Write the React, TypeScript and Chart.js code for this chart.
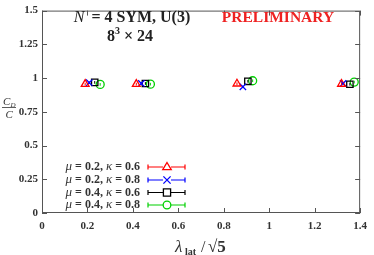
import React, { useEffect, useRef } from "react";
import { Chart, registerables } from "chart.js";

Chart.register(...registerables);

const seriesLabels = ["0.2|0.6", "0.2|0.8", "0.4|0.6", "0.4|0.8"];
const muValues = ["0.2", "0.2", "0.4", "0.4"];
const kappaValues = ["0.6", "0.8", "0.6", "0.8"];
const seriesColors = ["#ff0000", "#0000ff", "#000000", "#00d000"];
const seriesStyles = ["triangle", "crossRot", "rect", "circle"];

const xRedTri = [0.19, 0.415, 0.858, 1.318];
const yRedTri = [0.955, 0.955, 0.958, 0.956];
const xBlueX = [0.208, 0.437, 0.884, 1.325];
const yBlueX = [0.966, 0.96, 0.935, 0.96];
const xBlackSq = [0.232, 0.455, 0.906, 1.355];
const yBlackSq = [0.968, 0.96, 0.976, 0.954];
const xGreenCirc = [0.256, 0.477, 0.927, 1.374];
const yGreenCirc = [0.953, 0.955, 0.98, 0.97];
const yErr = [0.01, 0.01, 0.01, 0.01];

const xTicks = [0, 0.2, 0.4, 0.6, 0.8, 1, 1.2, 1.4];
const yTicks = [0, 0.25, 0.5, 0.75, 1, 1.25, 1.5];

const allX = [xRedTri, xBlueX, xBlackSq, xGreenCirc];
const allY = [yRedTri, yBlueX, yBlackSq, yGreenCirc];

const SERIF = "'Liberation Serif', 'DejaVu Serif', serif";

function drawMarker(ctx: CanvasRenderingContext2D, style: string, x: number, y: number, r: number, color: string) {
  ctx.save();
  ctx.strokeStyle = color;
  ctx.lineWidth = 1.3;
  ctx.beginPath();
  if (style === "triangle") {
    ctx.moveTo(x, y - r);
    ctx.lineTo(x + r * 0.95, y + r * 0.6);
    ctx.lineTo(x - r * 0.95, y + r * 0.6);
    ctx.closePath();
  } else if (style === "crossRot") {
    ctx.moveTo(x - r * 0.8, y - r * 0.8);
    ctx.lineTo(x + r * 0.8, y + r * 0.8);
    ctx.moveTo(x + r * 0.8, y - r * 0.8);
    ctx.lineTo(x - r * 0.8, y + r * 0.8);
  } else if (style === "rect") {
    ctx.rect(x - r * 0.8, y - r * 0.8, r * 1.6, r * 1.6);
  } else {
    ctx.arc(x, y, r * 0.85, 0, Math.PI * 2);
  }
  ctx.stroke();
  ctx.restore();
}

const framePlugin = {
  id: "frame",
  afterDatasetsDraw(chart: any) {
    const { ctx, chartArea: a, scales } = chart;
    const xs = scales.x;
    const ys = scales.y;
    ctx.save();
    // error bars (vertical, tiny)
    chart.data.datasets.forEach((ds: any, i: number) => {
      ctx.strokeStyle = seriesColors[i];
      ctx.lineWidth = 1;
      ds.data.forEach((p: any) => {
        const px = xs.getPixelForValue(p.x);
        const y1 = ys.getPixelForValue(p.y - yErr[i]);
        const y2 = ys.getPixelForValue(p.y + yErr[i]);
        ctx.beginPath();
        ctx.moveTo(px, y1);
        ctx.lineTo(px, y2);
        ctx.stroke();
      });
    });
    // frame
    ctx.strokeStyle = "#555555";
    ctx.lineWidth = 1;
    ctx.strokeRect(a.left + 0.5, a.top + 0.5, a.right - a.left - 1, a.bottom - a.top - 1);
    // inward ticks
    const tl = 5;
    xTicks.forEach((v) => {
      const px = Math.round(xs.getPixelForValue(v)) + 0.5;
      ctx.beginPath();
      ctx.moveTo(px, a.bottom);
      ctx.lineTo(px, a.bottom - tl);
      ctx.moveTo(px, a.top);
      ctx.lineTo(px, a.top + tl);
      ctx.stroke();
    });
    yTicks.forEach((v) => {
      const py = Math.round(ys.getPixelForValue(v)) + 0.5;
      ctx.beginPath();
      ctx.moveTo(a.left, py);
      ctx.lineTo(a.left + tl, py);
      ctx.moveTo(a.right, py);
      ctx.lineTo(a.right - tl, py);
      ctx.stroke();
    });

    // Legend
    const rowY = [167, 180, 192.5, 205];
    const textRight = 140;
    const lineL = 148;
    const lineR = 185;
    const markX = 167;
    ctx.textBaseline = "middle";
    for (let i = 0; i < 4; i++) {
      const y = rowY[i];
      const parts: [string, string][] = [
        ["italic 13px " + SERIF, "\u03bc"],
        ["bold 12px " + SERIF, " = " + muValues[i] + ", "],
        ["italic 13px " + SERIF, "\u03ba"],
        ["bold 12px " + SERIF, " = " + kappaValues[i]],
      ];
      let w = 0;
      parts.forEach(([f, t]) => {
        ctx.font = f;
        w += ctx.measureText(t).width;
      });
      let x = textRight - w;
      ctx.fillStyle = "#333333";
      ctx.textAlign = "left";
      parts.forEach(([f, t]) => {
        ctx.font = f;
        ctx.fillText(t, x, y);
        x += ctx.measureText(t).width;
      });
      ctx.strokeStyle = seriesColors[i];
      ctx.lineWidth = 1.2;
      ctx.beginPath();
      ctx.moveTo(lineL, y);
      ctx.lineTo(lineR, y);
      ctx.moveTo(lineL, y - 2.5);
      ctx.lineTo(lineL, y + 2.5);
      ctx.moveTo(lineR, y - 2.5);
      ctx.lineTo(lineR, y + 2.5);
      ctx.stroke();
      ctx.fillStyle = "#ffffff";
      ctx.fillRect(markX - 4, y - 4, 8, 8);
      drawMarker(ctx, seriesStyles[i], markX, y, 4.5, seriesColors[i]);
    }

    // Title texts
    ctx.textBaseline = "alphabetic";
    ctx.fillStyle = "#222222";
    ctx.font = "italic 16px " + SERIF;
    const wN = ctx.measureText("N").width + 3;
    ctx.font = "bold 16px " + SERIF;
    const rest = " = 4 SYM, U(3)";
    const wR = ctx.measureText(rest).width;
    let sx = 132 - (wN + wR) / 2;
    ctx.textAlign = "left";
    ctx.font = "italic 16px " + SERIF;
    ctx.fillText("N", sx, 22);
    ctx.font = "bold 16px " + SERIF;
    ctx.fillText(rest, sx + wN, 22);
    // 8^3 x 24
    ctx.font = "bold 16px " + SERIF;
    const w8 = ctx.measureText("8").width;
    ctx.font = "bold 10px " + SERIF;
    const w3 = ctx.measureText("3").width;
    ctx.font = "bold 16px " + SERIF;
    const wt = ctx.measureText(" \u00d7 24").width;
    sx = 130 - (w8 + w3 + wt) / 2;
    ctx.fillText("8", sx, 41);
    ctx.font = "bold 10px " + SERIF;
    ctx.fillText("3", sx + w8, 34);
    ctx.font = "bold 16px " + SERIF;
    ctx.fillText(" \u00d7 24", sx + w8 + w3, 41);

    ctx.fillStyle = "#ee2222";
    ctx.textAlign = "center";
    ctx.font = "bold 15.5px " + SERIF;
    ctx.fillText("PRELIMINARY", 278, 22);

    // Y axis title: C_D / C
    ctx.fillStyle = "#333333";
    ctx.font = "italic 11px " + SERIF;
    ctx.textAlign = "left";
    ctx.fillText("C", 3, 105);
    ctx.font = "italic 7px " + SERIF;
    ctx.fillText("D", 10.5, 107);
    ctx.strokeStyle = "#333333";
    ctx.lineWidth = 0.8;
    ctx.beginPath();
    ctx.moveTo(2, 107.5);
    ctx.lineTo(16, 107.5);
    ctx.stroke();
    ctx.font = "italic 11px " + SERIF;
    ctx.fillText("C", 5.5, 118);

    // X axis title
    ctx.font = "italic 17px " + SERIF;
    ctx.fillText("\u03bb", 175, 252);
    ctx.font = "bold 10px " + SERIF;
    ctx.fillText("lat", 185, 255);
    ctx.font = "16px " + SERIF;
    ctx.fillText("/", 201, 252);
    ctx.font = "bold 17px " + SERIF;
    ctx.fillText("\u221a5", 208, 252);
    ctx.restore();
  },
};

export default function App() {
  const ref = useRef<HTMLCanvasElement | null>(null);
  useEffect(() => {
    document.body.style.margin = "0";
    if (!ref.current) return;
    const datasets = allX.map((xs, i) => ({
      label: seriesLabels[i],
      data: xs.map((x, j) => ({ x, y: allY[i][j] })),
      pointStyle: seriesStyles[i],
      pointRadius: seriesStyles[i] === "circle" ? 4 : 4.5,
      borderColor: seriesColors[i],
      backgroundColor: "rgba(0,0,0,0)",
      pointBorderWidth: 1.3,
      showLine: false,
    }));
    const tickFont = { family: SERIF, size: 11, weight: "bold" as const };
    const chart = new Chart(ref.current, {
      type: "scatter",
      data: { datasets },
      options: {
        animation: false,
        responsive: false,
        devicePixelRatio: 1,
        layout: { padding: { top: 5, right: 12, left: 0, bottom: 0 } },
        plugins: { legend: { display: false }, tooltip: { enabled: false } },
        scales: {
          x: {
            type: "linear",
            min: 0,
            max: 1.4,
            afterBuildTicks: (s: any) => {
              s.ticks = xTicks.map((v) => ({ value: v }));
            },
            afterFit: (s: any) => {
              s.height = 42;
            },
            grid: { display: false, drawTicks: false },
            border: { display: false },
            ticks: {
              font: tickFont,
              color: "#333333",
              padding: 7,
              maxRotation: 0,
              autoSkip: false,
              callback: (v: any) => String(Math.round(Number(v) * 10) / 10),
            },
          },
          y: {
            type: "linear",
            min: 0,
            max: 1.5,
            afterBuildTicks: (s: any) => {
              s.ticks = yTicks.map((v) => ({ value: v }));
            },
            afterFit: (s: any) => {
              s.width = 42;
            },
            grid: { display: false, drawTicks: false },
            border: { display: false },
            ticks: {
              font: tickFont,
              color: "#333333",
              padding: 4,
              autoSkip: false,
              callback: (v: any) => String(v),
            },
          },
        },
      },
      plugins: [framePlugin],
    });
    return () => chart.destroy();
  }, []);
  return (
    <div style={{ width: 374, height: 255 }}>
      <canvas ref={ref} width={374} height={255} style={{ display: "block", width: 374, height: 255 }} />
    </div>
  );
}
